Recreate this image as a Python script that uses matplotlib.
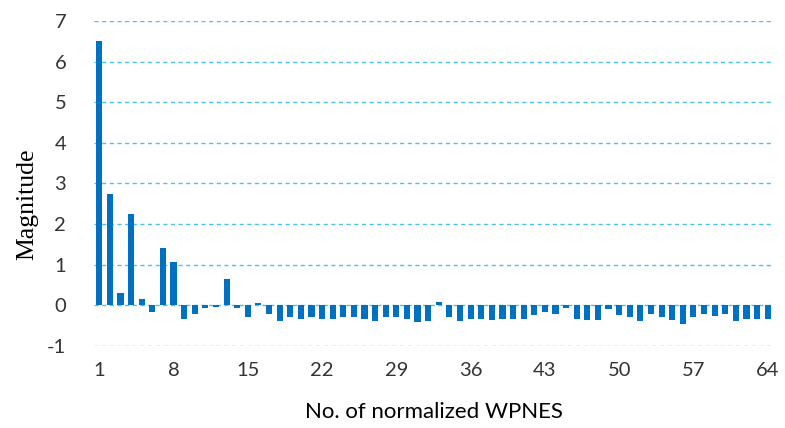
import numpy as np
import matplotlib
matplotlib.use('Agg')
from matplotlib import pyplot as plt

plt.rcParams['axes.unicode_minus'] = False

# magnitude of each normalized WPNES coefficient
idx = np.arange(1, 65)
magnitude = [6.50, 2.75, 0.29, 2.24, 0.16, -0.16, 1.42, 1.06,
             -0.35, -0.22, -0.07, -0.04, 0.64, -0.07, -0.29, 0.05,
             -0.22, -0.40, -0.29, -0.35, -0.29, -0.33, -0.35, -0.29,
             -0.29, -0.33, -0.39, -0.29, -0.29, -0.33, -0.41, -0.39,
             0.09, -0.29, -0.39, -0.33, -0.33, -0.37, -0.33, -0.35,
             -0.33, -0.25, -0.16, -0.22, -0.07, -0.35, -0.37, -0.37,
             -0.09, -0.25, -0.30, -0.39, -0.22, -0.30, -0.37, -0.47,
             -0.29, -0.22, -0.27, -0.22, -0.39, -0.35, -0.35, -0.35]
xticks = [1, 8, 15, 22, 29, 36, 43, 50, 57, 64]
yticks = [-1, 0, 1, 2, 3, 4, 5, 6, 7]

text_col = '#333333'

fig = plt.figure(figsize=(7.85, 4.28), dpi=100)
ax = fig.add_axes([0.1197, 0.192, 0.865, 0.759])

for y in yticks:
    ax.axhline(y, color='#4FC1E9', lw=1.0, ls=(0, (3, 2.5)), zorder=0)

ax.bar(idx, magnitude, width=0.58, color='#0070C0', zorder=2)

ax.set_xlim(0.5, 64.5)
ax.set_ylim(-1, 7)
ax.set_xticks(xticks)
ax.set_yticks(yticks)
ax.tick_params(length=0, labelsize=14.5, colors=text_col)
ax.tick_params(axis='x', pad=12)
ax.tick_params(axis='y', pad=20)
for lab in ax.get_xticklabels() + ax.get_yticklabels():
    lab.set_family('Lato')
for s in ax.spines.values():
    s.set_visible(False)

ax.set_ylabel('Magnitude', family='Liberation Serif', fontsize=18.5, color='black')
ax.yaxis.set_label_coords(-0.082, 0.437)
ax.set_xlabel('No. of normalized WPNES', family='Lato', fontsize=16, color='black', labelpad=16)

fig.savefig('out.png', dpi=100)
